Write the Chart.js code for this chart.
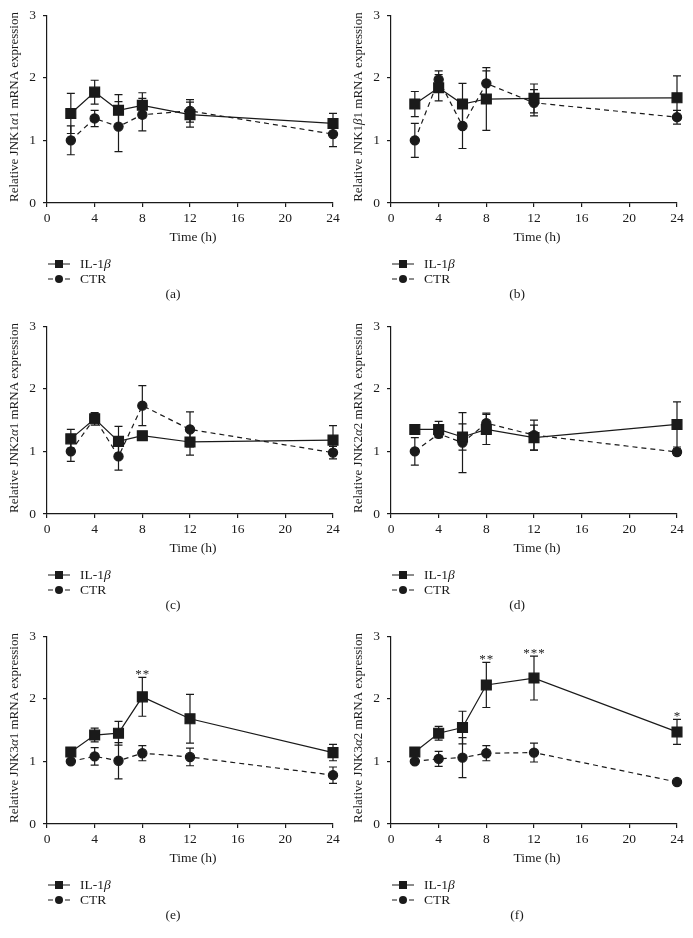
<!DOCTYPE html>
<html>
<head>
<meta charset="utf-8">
<script src="https://cdn.jsdelivr.net/npm/chart.js@4.4.1/dist/chart.umd.min.js"></script>
<style>
  body { margin: 0; background: #fff; width: 693px; height: 938px; position: relative; overflow: hidden; }
  .panel { position: absolute; width: 346px; height: 310px; }
</style>
</head>
<body>
<div class="panel" style="left:0;top:0"><canvas id="c0" width="346" height="310"></canvas></div>
<div class="panel" style="left:344px;top:0"><canvas id="c1" width="346" height="310"></canvas></div>
<div class="panel" style="left:0;top:311px"><canvas id="c2" width="346" height="310"></canvas></div>
<div class="panel" style="left:344px;top:311px"><canvas id="c3" width="346" height="310"></canvas></div>
<div class="panel" style="left:0;top:621px"><canvas id="c4" width="346" height="310"></canvas></div>
<div class="panel" style="left:344px;top:621px"><canvas id="c5" width="346" height="310"></canvas></div>
<script>
var times = [2, 4, 6, 8, 12, 24];
var xTicks = [0, 4, 8, 12, 16, 20, 24];
var yTicks = [0, 1, 2, 3];
var seriesNames = ['IL-1β', 'CTR'];
var xTitle = 'Time (h)';

// (a) JNK1α1
var jnk1a1Il1b = [1.43, 1.77, 1.48, 1.56, 1.41, 1.27];
var jnk1a1Il1bErr = [0.32, 0.19, 0.25, 0.20, 0.20, 0.16];
var jnk1a1Ctr = [1.00, 1.35, 1.22, 1.41, 1.47, 1.10];
var jnk1a1CtrErr = [0.23, 0.13, 0.40, 0.26, 0.18, 0.20];

// (b) JNK1β1
var jnk1b1Il1b = [1.58, 1.84, 1.58, 1.66, 1.67, 1.68];
var jnk1b1Il1bErr = [0.20, 0.21, 0.33, 0.50, 0.23, 0.35];
var jnk1b1Ctr = [1.00, 1.97, 1.23, 1.91, 1.60, 1.37];
var jnk1b1CtrErr = [0.27, 0.14, 0.36, 0.20, 0.21, 0.11];

// (c) JNK2α1
var jnk2a1Il1b = [1.20, 1.52, 1.16, 1.25, 1.15, 1.18];
var jnk2a1Il1bErr = [0.15, 0.10, 0.24, 0.05, 0.21, 0.23];
var jnk2a1Ctr = [1.00, 1.53, 0.92, 1.73, 1.35, 0.98];
var jnk2a1CtrErr = [0.16, 0.07, 0.22, 0.32, 0.28, 0.10];

// (d) JNK2α2
var jnk2a2Il1b = [1.35, 1.35, 1.23, 1.35, 1.22, 1.43];
var jnk2a2Il1bErr = [0.02, 0.13, 0.21, 0.24, 0.20, 0.36];
var jnk2a2Ctr = [1.00, 1.28, 1.14, 1.45, 1.26, 0.99];
var jnk2a2CtrErr = [0.22, 0.05, 0.48, 0.16, 0.24, 0.05];

// (e) JNK3α1
var jnk3a1Il1b = [1.15, 1.42, 1.45, 2.03, 1.68, 1.14];
var jnk3a1Il1bErr = [0.03, 0.11, 0.19, 0.31, 0.39, 0.13];
var jnk3a1Ctr = [1.00, 1.08, 1.01, 1.13, 1.07, 0.78];
var jnk3a1CtrErr = [0.02, 0.14, 0.29, 0.12, 0.14, 0.13];
var jnk3a1Stars = ['', '', '', '**', '', ''];

// (f) JNK3α2
var jnk3a2Il1b = [1.15, 1.45, 1.54, 2.22, 2.33, 1.47];
var jnk3a2Il1bErr = [0.03, 0.11, 0.26, 0.36, 0.35, 0.20];
var jnk3a2Ctr = [1.00, 1.04, 1.06, 1.13, 1.14, 0.67];
var jnk3a2CtrErr = [0.02, 0.12, 0.32, 0.12, 0.15, 0.02];
var jnk3a2Stars = ['', '', '', '**', '***', '*'];

var panels = [
  { title: 'Relative JNK1α1 mRNA expression', caption: '(a)', il1b: jnk1a1Il1b, il1bErr: jnk1a1Il1bErr, ctr: jnk1a1Ctr, ctrErr: jnk1a1CtrErr, stars: null },
  { title: 'Relative JNK1β1 mRNA expression', caption: '(b)', il1b: jnk1b1Il1b, il1bErr: jnk1b1Il1bErr, ctr: jnk1b1Ctr, ctrErr: jnk1b1CtrErr, stars: null },
  { title: 'Relative JNK2α1 mRNA expression', caption: '(c)', il1b: jnk2a1Il1b, il1bErr: jnk2a1Il1bErr, ctr: jnk2a1Ctr, ctrErr: jnk2a1CtrErr, stars: null },
  { title: 'Relative JNK2α2 mRNA expression', caption: '(d)', il1b: jnk2a2Il1b, il1bErr: jnk2a2Il1bErr, ctr: jnk2a2Ctr, ctrErr: jnk2a2CtrErr, stars: null },
  { title: 'Relative JNK3α1 mRNA expression', caption: '(e)', il1b: jnk3a1Il1b, il1bErr: jnk3a1Il1bErr, ctr: jnk3a1Ctr, ctrErr: jnk3a1CtrErr, stars: jnk3a1Stars },
  { title: 'Relative JNK3α2 mRNA expression', caption: '(f)', il1b: jnk3a2Il1b, il1bErr: jnk3a2Il1bErr, ctr: jnk3a2Ctr, ctrErr: jnk3a2CtrErr, stars: jnk3a2Stars }
];

var INK = '#1a1a1a';
var FONT = '"Liberation Serif", "DejaVu Serif", serif';
var FS = 13;

// draws text, greek letters in italic
function drawRich(ctx, text, x, y, align, size) {
  size = size || FS;
  var runs = [];
  for (var i = 0; i < text.length; i++) {
    var g = /[\u0370-\u03ff]/.test(text[i]);
    if (runs.length && runs[runs.length - 1].g === g) runs[runs.length - 1].t += text[i];
    else runs.push({ t: text[i], g: g });
  }
  var total = 0;
  runs.forEach(function (r) {
    ctx.font = (r.g ? 'italic ' : '') + size + 'px ' + FONT;
    r.w = ctx.measureText(r.t).width;
    total += r.w;
  });
  var cx = align === 'center' ? x - total / 2 : x;
  ctx.textAlign = 'left';
  ctx.textBaseline = 'middle';
  runs.forEach(function (r) {
    ctx.font = (r.g ? 'italic ' : '') + size + 'px ' + FONT;
    ctx.fillText(r.t, cx, y);
    cx += r.w;
  });
}

function makeDecor(p) {
  return {
    id: 'decor',
    beforeDatasetsDraw: function (chart) {
      var ctx = chart.ctx, xs = chart.scales.x, ys = chart.scales.y;
      var sets = [[p.il1b, p.il1bErr], [p.ctr, p.ctrErr]];
      ctx.save();
      ctx.strokeStyle = INK;
      ctx.lineWidth = 1.2;
      sets.forEach(function (s) {
        times.forEach(function (t, j) {
          var x = xs.getPixelForValue(t);
          var top = ys.getPixelForValue(s[0][j] + s[1][j]);
          var bot = ys.getPixelForValue(s[0][j] - s[1][j]);
          ctx.beginPath();
          ctx.moveTo(x, top); ctx.lineTo(x, bot);
          ctx.moveTo(x - 4, top); ctx.lineTo(x + 4, top);
          ctx.moveTo(x - 4, bot); ctx.lineTo(x + 4, bot);
          ctx.stroke();
        });
      });
      ctx.restore();
    },
    afterDraw: function (chart) {
      var ctx = chart.ctx, xs = chart.scales.x, ys = chart.scales.y, a = chart.chartArea;
      ctx.save();
      ctx.fillStyle = INK;
      // significance stars, spaced a little apart
      if (p.stars) {
        ctx.font = FS + 'px ' + FONT;
        ctx.textAlign = 'center';
        ctx.textBaseline = 'alphabetic';
        p.stars.forEach(function (st, j) {
          if (!st) return;
          var x = xs.getPixelForValue(times[j]);
          var y = ys.getPixelForValue(p.il1b[j] + p.il1bErr[j]);
          for (var n = 0; n < st.length; n++) {
            ctx.fillText('*', x + (n - (st.length - 1) / 2) * 7.5, y + 1);
          }
        });
      }
      // y title
      ctx.save();
      ctx.translate(15, (a.top + a.bottom) / 2 - 2);
      ctx.rotate(-Math.PI / 2);
      drawRich(ctx, p.title, 0, 0, 'center');
      ctx.restore();
      // x title
      drawRich(ctx, xTitle, (a.left + a.right) / 2 + 3, 237, 'center', 13.5);
      // legend
      ctx.strokeStyle = INK;
      ctx.lineWidth = 1.2;
      ctx.beginPath();
      ctx.moveTo(48, 264); ctx.lineTo(70, 264);
      ctx.moveTo(48, 279); ctx.lineTo(53, 279);
      ctx.moveTo(65, 279); ctx.lineTo(70, 279);
      ctx.stroke();
      ctx.fillRect(55, 260, 8, 8);
      ctx.beginPath();
      ctx.arc(59, 279, 4, 0, Math.PI * 2);
      ctx.fill();
      drawRich(ctx, seriesNames[0], 80, 264, 'left', 13.5);
      drawRich(ctx, seriesNames[1], 80, 279, 'left', 13.5);
      // caption
      drawRich(ctx, p.caption, 173, 294, 'center', 13.5);
      ctx.restore();
    }
  };
}

panels.forEach(function (p, k) {
  var ctx = document.getElementById('c' + k);
  new Chart(ctx, {
    type: 'line',
    data: {
      datasets: [{
        label: seriesNames[0],
        data: times.map(function (t, i) { return { x: t, y: p.il1b[i] }; }),
        borderColor: INK,
        backgroundColor: INK,
        pointBorderColor: INK,
        pointBackgroundColor: INK,
        borderWidth: 1.2,
        pointStyle: 'rect',
        pointRadius: 7,
        clip: false
      }, {
        label: seriesNames[1],
        data: times.map(function (t, i) { return { x: t, y: p.ctr[i] }; }),
        borderColor: INK,
        backgroundColor: INK,
        pointBorderColor: INK,
        pointBackgroundColor: INK,
        borderWidth: 1.2,
        borderDash: [5, 4],
        pointStyle: 'circle',
        pointRadius: 4.6,
        clip: false
      }]
    },
    options: {
      responsive: false,
      animation: false,
      events: [],
      layout: { padding: { top: 13, right: 13, left: 0, bottom: 0 } },
      plugins: { legend: { display: false }, tooltip: { enabled: false } },
      scales: {
        x: {
          type: 'linear',
          min: 0,
          max: 24,
          afterBuildTicks: function (s) { s.ticks = xTicks.map(function (v) { return { value: v }; }); },
          afterFit: function (s) { s.height = 107; },
          grid: { display: true, drawOnChartArea: false, color: INK, tickLength: 4, lineWidth: 1.2 },
          border: { color: INK, width: 1.2 },
          ticks: { color: INK, padding: 3, maxRotation: 0, font: { family: FONT, size: 13.5 } }
        },
        y: {
          type: 'linear',
          min: 0,
          max: 3,
          afterBuildTicks: function (s) { s.ticks = yTicks.map(function (v) { return { value: v }; }); },
          afterFit: function (s) { s.width = 47; },
          grid: { display: true, drawOnChartArea: false, color: INK, tickLength: 4, lineWidth: 1.2 },
          border: { color: INK, width: 1.2 },
          ticks: { color: INK, padding: 7, font: { family: FONT, size: 13.5 } }
        }
      }
    },
    plugins: [makeDecor(p)]
  });
});
</script>
</body>
</html>
